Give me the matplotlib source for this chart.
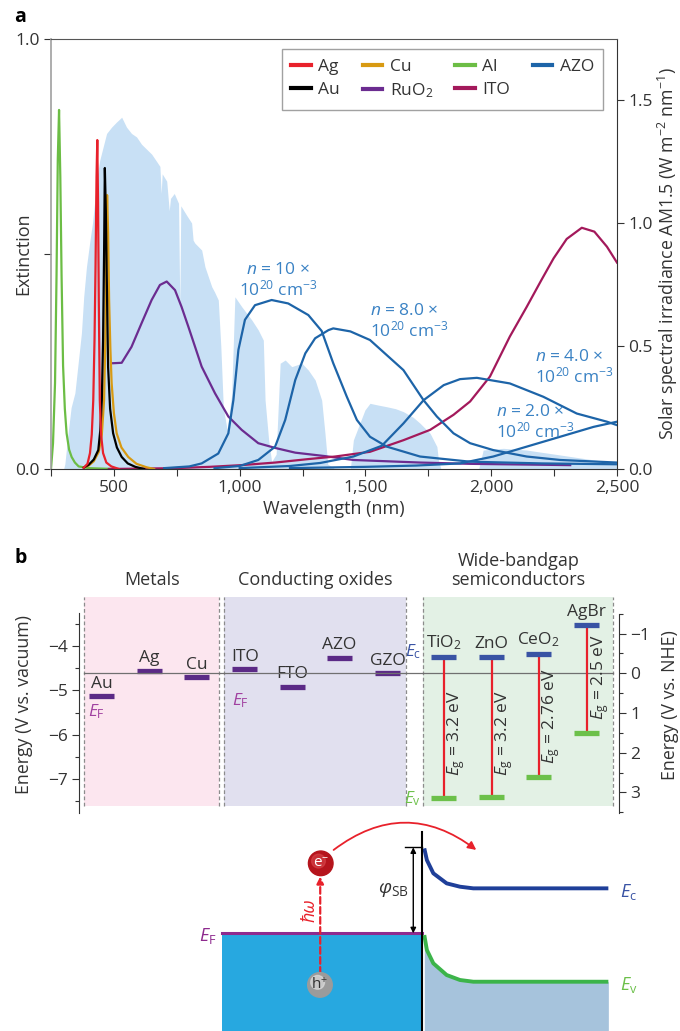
import numpy as np
import matplotlib.pyplot as plt
from matplotlib.ticker import FuncFormatter, FixedLocator
from matplotlib.patches import Circle, FancyArrowPatch, Rectangle

plt.rcParams['font.family'] = ['Open Sans', 'DejaVu Sans']
plt.rcParams['mathtext.fontset'] = 'custom'
plt.rcParams['mathtext.rm'] = 'Open Sans'
plt.rcParams['mathtext.it'] = 'Open Sans:italic'
plt.rcParams['mathtext.bf'] = 'Open Sans:bold'
plt.rcParams['text.color'] = '#333333'

# ---------------- panel a data ----------------
solar_nm = [280, 300, 305, 318, 330, 345, 360, 371, 380, 391, 405, 415, 424, 435, 444,
            455, 471, 491, 510, 531, 550, 570, 590, 610, 630, 650, 670, 683, 688, 692,
            710, 720, 725, 740, 757, 762, 766, 790, 809, 815, 822, 849, 862, 889, 900,
            915, 925, 935, 950, 968, 981, 1008, 1048, 1074, 1094, 1101, 1115, 1127, 1145,
            1161, 1181, 1207, 1247, 1273, 1300, 1326, 1339, 1350, 1380, 1440, 1452, 1498,
            1518, 1550, 1585, 1620, 1651, 1690, 1717, 1757, 1784, 1790, 1800, 1950, 1968,
            2000, 2048, 2100, 2141, 2200, 2274, 2340, 2407, 2487, 2500]
solar_irr = [0.0, 0.0, 0.02, 0.146, 0.25, 0.309, 0.45, 0.553, 0.70, 0.822, 0.93, 1.0, 1.09,
             1.20, 1.256, 1.30, 1.364, 1.39, 1.41, 1.43, 1.39, 1.364, 1.35, 1.32, 1.30, 1.28,
             1.25, 1.23, 1.12, 1.20, 1.17, 1.05, 1.10, 1.12, 1.08, 0.66, 1.07, 1.03, 1.0,
             0.93, 0.918, 0.89, 0.822, 0.741, 0.72, 0.687, 0.50, 0.25, 0.16, 0.30, 0.70,
             0.66, 0.606, 0.565, 0.524, 0.28, 0.12, 0.03, 0.06, 0.43, 0.443, 0.416, 0.43,
             0.402, 0.362, 0.28, 0.146, 0.02, 0.0, 0.0, 0.118, 0.24, 0.267, 0.26, 0.253,
             0.245, 0.233, 0.21, 0.186, 0.145, 0.091, 0.037, 0.0, 0.0, 0.077, 0.08, 0.084,
             0.08, 0.077, 0.068, 0.057, 0.047, 0.037, 0.026, 0.025]

al_nm = [250, 258, 266, 272, 277, 282, 287, 292, 298, 305, 312, 322, 332, 345, 360, 400, 500]
al_ext = [0.0, 0.06, 0.20, 0.45, 0.72, 0.835, 0.68, 0.45, 0.24, 0.14, 0.083, 0.045, 0.028,
          0.015, 0.006, 0.002, 0.0]

ag_nm = [380, 395, 405, 412, 418, 423, 427, 431, 434, 437, 440, 444, 449, 457, 470, 490, 520]
ag_ext = [0.003, 0.012, 0.037, 0.08, 0.16, 0.30, 0.47, 0.68, 0.765, 0.62, 0.393, 0.16, 0.08,
          0.037, 0.015, 0.006, 0.0]

au_nm = [380, 400, 420, 438, 446, 452, 457, 461, 464, 468, 471, 477, 485, 497, 512, 531,
         555, 585, 620]
au_ext = [0.003, 0.01, 0.022, 0.044, 0.09, 0.16, 0.30, 0.50, 0.70, 0.60, 0.47, 0.237, 0.14,
          0.083, 0.05, 0.028, 0.013, 0.005, 0.0]

cu_nm = [380, 400, 420, 440, 452, 461, 466, 470, 473, 477, 481, 486, 491, 500, 511, 530,
         557, 590, 630, 660]
cu_ext = [0.003, 0.008, 0.018, 0.04, 0.08, 0.16, 0.30, 0.50, 0.637, 0.55, 0.393, 0.28, 0.20,
          0.13, 0.083, 0.05, 0.028, 0.012, 0.004, 0.0]

ruo2_nm = [497, 531, 570, 610, 650, 683, 710, 743, 769, 796, 849, 902, 955, 1008, 1074,
           1141, 1221, 1339, 1452, 1717, 1916, 2314]
ruo2_ext = [0.246, 0.247, 0.284, 0.339, 0.393, 0.428, 0.436, 0.416, 0.377, 0.331, 0.238,
            0.176, 0.122, 0.091, 0.06, 0.049, 0.038, 0.030, 0.021, 0.015, 0.012, 0.009]

ito_nm = [480, 620, 743, 880, 1008, 1141, 1272, 1379, 1518, 1651, 1757, 1850, 1916, 1995,
          2074, 2141, 2200, 2248, 2300, 2360, 2410, 2460, 2500]
ito_ext = [0.0, 0.001, 0.002, 0.005, 0.009, 0.015, 0.023, 0.029, 0.040, 0.067, 0.091, 0.126,
           0.157, 0.215, 0.308, 0.377, 0.44, 0.49, 0.535, 0.561, 0.552, 0.517, 0.48]

azo10_nm = [700, 800, 849, 915, 955, 975, 995, 1021, 1061, 1127, 1193, 1273, 1326, 1372,
            1426, 1466, 1518, 1585, 1717, 1916, 2200, 2500]
azo10_ext = [0.002, 0.006, 0.013, 0.036, 0.083, 0.16, 0.277, 0.347, 0.381, 0.393, 0.385,
             0.358, 0.321, 0.246, 0.168, 0.114, 0.075, 0.052, 0.029, 0.017, 0.013, 0.011]

azo8_nm = [900, 1000, 1074, 1141, 1181, 1221, 1261, 1300, 1353, 1372, 1440, 1518, 1651,
           1731, 1784, 1850, 1916, 2008, 2141, 2274, 2500]
azo8_ext = [0.002, 0.007, 0.021, 0.052, 0.114, 0.207, 0.269, 0.304, 0.323, 0.327, 0.32,
            0.30, 0.230, 0.16, 0.122, 0.083, 0.06, 0.044, 0.029, 0.021, 0.015]

azo4_nm = [1000, 1200, 1320, 1452, 1565, 1651, 1731, 1811, 1876, 1943, 2074, 2207, 2340,
           2460, 2500]
azo4_ext = [0.002, 0.007, 0.014, 0.029, 0.054, 0.106, 0.16, 0.195, 0.209, 0.212, 0.199,
            0.168, 0.129, 0.11, 0.102]

azo2_nm = [1200, 1500, 1700, 1876, 2008, 2141, 2274, 2407, 2500]
azo2_ext = [0.002, 0.005, 0.008, 0.013, 0.029, 0.052, 0.075, 0.098, 0.11]

azo_labels = ['10', '8.0', '4.0', '2.0']

# ---------------- panel b data ----------------
metal_names = ['Au', 'Ag', 'Cu', 'ITO', 'FTO', 'AZO', 'GZO']
metal_ef = [-5.13, -4.56, -4.70, -4.52, -4.92, -4.26, -4.61]      # V vs. vacuum
semi_names = ['TiO$_2$', 'ZnO', 'CeO$_2$', 'AgBr']
semi_ec = [-0.42, -0.42, -0.49, -1.22]                             # V vs. NHE
semi_ev = [3.13, 3.11, 2.60, 1.51]
semi_gap = ['3.2', '3.2', '2.76', '2.5']

# ---------------- panel c schematic levels (phi_SB = 1) ----------------
ef_level = 0.0
barrier = 1.0
bend_x = [0.03, 0.06, 0.135, 0.29, 0.445, 0.6, 2.17]
ec_band = [0.988, 0.852, 0.698, 0.581, 0.542, 0.523, 0.523]
ev_band = [-0.02, -0.194, -0.349, -0.485, -0.543, -0.563, -0.563]

W, H = 680, 1031


def box(l, t, r, b):
    return [l / W, 1 - b / H, (r - l) / W, (b - t) / H]


fig = plt.figure(figsize=(6.8, 10.31), dpi=100)
dark = '#333333'
fs = 12.5

# ======================= panel a =======================
ax1 = fig.add_axes(box(51, 39, 617, 469))
ax2 = ax1.twinx()
ax2.fill_between(solar_nm, solar_irr, color='#c8e0f5', lw=0)
ax1.set_zorder(ax2.get_zorder() + 1)
ax1.patch.set_visible(False)

ax1.plot(al_nm, al_ext, color='#6cbd45', lw=1.6, label='Al')
ax1.plot(ruo2_nm, ruo2_ext, color='#6b2c90', lw=1.6, label='RuO$_2$')
ax1.plot(ito_nm, ito_ext, color='#a3195b', lw=1.6, label='ITO')
azo_c = '#1d64a8'
ax1.plot(azo10_nm, azo10_ext, color=azo_c, lw=1.6, label='AZO')
ax1.plot(azo8_nm, azo8_ext, color=azo_c, lw=1.6)
ax1.plot(azo4_nm, azo4_ext, color=azo_c, lw=1.6)
ax1.plot(azo2_nm, azo2_ext, color=azo_c, lw=1.6)
ax1.plot(cu_nm, cu_ext, color='#d89a12', lw=1.6, label='Cu')
ax1.plot(au_nm, au_ext, color='black', lw=1.6, label='Au')
ax1.plot(ag_nm, ag_ext, color='#e8212b', lw=1.6, label='Ag')

ax1.set_xlim(250, 2500)
ax1.set_ylim(0, 1.0)
ax2.set_ylim(0, 1.748)

ax1.xaxis.set_major_locator(FixedLocator([500, 1000, 1500, 2000, 2500]))
ax1.xaxis.set_minor_locator(FixedLocator([250, 750, 1250, 1750, 2250]))
ax1.xaxis.set_major_formatter(FuncFormatter(lambda v, p: f'{v:,.0f}'))
ax1.set_yticks([0, 0.5, 1.0])
ax1.set_yticklabels(['0.0', '', '1.0'])
ax2.set_yticks([0, 0.5, 1.0, 1.5])
ax2.set_yticklabels(['0.0', '0.5', '1.0', '1.5'])
for a in (ax1, ax2):
    a.tick_params(which='both', direction='out', length=5, width=0.8, colors=dark,
                  labelsize=fs, labelcolor=dark, pad=3)

ax1.spines['left'].set_color('#a0a0a0')
ax1.spines['left'].set_linewidth(1.2)
ax1.spines['top'].set_color('#555555')
ax1.spines['bottom'].set_color(dark)
ax1.spines['right'].set_visible(False)
for s in ('left', 'top', 'bottom'):
    ax2.spines[s].set_visible(False)
ax2.spines['right'].set_color(dark)

ax1.set_xlabel('Wavelength (nm)', fontsize=13, color=dark, labelpad=3)
ax1.set_ylabel('Extinction', fontsize=13, color=dark, va='center')
ax1.yaxis.set_label_coords((23 - 51) / 566, 0.5)
ax2.set_ylabel('Solar spectral irradiance AM1.5 (W m$^{-2}$ nm$^{-1}$)', fontsize=12.8,
               color=dark, va='center')
ax2.yaxis.set_label_coords((668 - 51) / 566, 0.5)

h, l = ax1.get_legend_handles_labels()
order = ['Ag', 'Au', 'Cu', 'RuO$_2$', 'Al', 'ITO', 'AZO']
hh = [h[l.index(k)] for k in order]
leg = ax1.legend(hh, order, ncol=4, loc='upper right', bbox_to_anchor=(0.976, 0.977),
                 fontsize=fs, frameon=True, fancybox=False, handlelength=1.1,
                 handletextpad=0.45, columnspacing=1.3, borderpad=0.55, labelspacing=0.4,
                 borderaxespad=0)
leg.get_frame().set_edgecolor('#8a8a8a')
leg.get_frame().set_linewidth(1.0)
for line in leg.get_lines():
    line.set_linewidth(3)
for t in leg.get_texts():
    t.set_color(dark)

lab_c = '#3a82c4'
lab_pos = [(1152, 0.395, 'center'), (1518, 0.30, 'left'), (2175, 0.193, 'left'),
           (2019, 0.065, 'left')]
for txt, (x, y, ha) in zip(azo_labels, lab_pos):
    ax1.text(x, y, f'$n$ = {txt} ×\n10$^{{20}}$ cm$^{{-3}}$', color=lab_c, fontsize=fs,
             ha=ha, va='bottom', linespacing=1.05)

fig.text(14 / W, 1 - 22 / H, 'a', fontsize=14, fontweight='bold', color='black')

# ======================= panel b =======================
axb = fig.add_axes(box(79.3, 597, 619.3, 813))
axb.set_xlim(79.3, 619.3)
axb.set_ylim(-7.759, -2.896)
axr = axb.twinx()
axr.set_ylim(3.519, -1.922)

regions = [(84, 219.3, '#fce6ef', 'Metals'), (224.3, 406, '#e1e0ef', 'Conducting oxides'),
           (423.3, 613.3, '#e3f1e5', 'Wide-bandgap\nsemiconductors')]
for x0, x1, c, name in regions:
    axb.axvspan(x0, x1, ymin=7 / 216, ymax=1, color=c, lw=0, zorder=0)
    for xe in (x0, x1):
        axb.plot([xe, xe], [-7.60, -2.896], color='#8c8c8c', lw=0.9, ls=(0, (3, 2)), zorder=1)
    axb.text((x0 + x1) / 2, -2.72, name, ha='center', va='bottom', fontsize=13,
             color=dark, linespacing=1.1)

axr.plot([84, 613.3], [0, 0], color='#707070', lw=0.9, zorder=1)

metal_x = [101.7, 149.3, 196.7, 244.7, 292.3, 339.3, 387.5]
for x, e, n in zip(metal_x, metal_ef, metal_names):
    axb.plot([x - 12.5, x + 12.5], [e, e], color='#5b2a86', lw=3.8, solid_capstyle='butt',
             zorder=3)
    axb.text(x, e + 0.1, n, ha='center', va='bottom', fontsize=fs, color=dark, zorder=4)
axb.text(96, -5.47, '$E_{\\rm F}$', color='#a040a0', fontsize=fs, ha='center', va='center')
axb.text(240, -5.22, '$E_{\\rm F}$', color='#a040a0', fontsize=fs, ha='center', va='center')

semi_x = [443.5, 491.5, 538.5, 586.7]
eg_y = [1.5, 1.5, 1.08, 0.09]
for x, ec, ev, n, g, gy in zip(semi_x, semi_ec, semi_ev, semi_names, semi_gap, eg_y):
    axr.plot([x, x], [ec, ev], color='#e8212b', lw=1.6, zorder=2)
    axr.plot([x - 12.5, x + 12.5], [ec, ec], color='#3953a4', lw=3.8,
             solid_capstyle='butt', zorder=3)
    axr.plot([x - 12.5, x + 12.5], [ev, ev], color='#6cc04a', lw=3.8,
             solid_capstyle='butt', zorder=3)
    axr.text(x, ec - 0.12, n, ha='center', va='bottom', fontsize=fs, color=dark)
    axr.text(x + 13, gy, f'$E_{{\\rm g}}$ = {g} eV', rotation=90, ha='center', va='center',
             fontsize=fs, color=dark)
axr.text(413, -0.55, '$E_{\\rm c}$', color='#3953a4', fontsize=fs, ha='center', va='center')
axr.text(413, 3.15, '$E_{\\rm v}$', color='#6cc04a', fontsize=fs, ha='center', va='center')

axb.set_xticks([])
for s in ('top', 'bottom', 'right'):
    axb.spines[s].set_visible(False)
    axr.spines[s if s != 'right' else 'left'].set_visible(False)
axb.spines['left'].set_bounds(-7.759, -3.257)
axr.spines['right'].set_bounds(-1.5, 3.519)
axb.spines['left'].set_color(dark)
axr.spines['right'].set_color(dark)
axb.set_yticks([-7, -6, -5, -4])
axb.set_yticks([-7.5, -6.5, -5.5, -4.5, -3.5], minor=True)
axr.set_yticks([-1, 0, 1, 2, 3])
axr.set_yticks([-1.5, -0.5, 0.5, 1.5, 2.5, 3.5], minor=True)
for a in (axb, axr):
    a.tick_params(which='major', direction='out', length=5, width=0.8, colors=dark,
                  labelsize=fs, labelcolor=dark, pad=3)
    a.tick_params(which='minor', direction='out', length=3, width=0.8, colors=dark)
axb.set_ylabel('Energy (V vs. vacuum)', fontsize=12.8, color=dark, va='center')
axb.yaxis.set_label_coords((24 - 79.3) / 540, 0.5)
axr.set_ylabel('Energy (V vs. NHE)', fontsize=12.8, color=dark, va='center')
axr.yaxis.set_label_coords((670 - 79.3) / 540, 0.5)

fig.text(14 / W, 1 - 563 / H, 'b', fontsize=14, fontweight='bold', color='black')

# ======================= panel c (schematic) =======================
axc = fig.add_axes([0, 0, 1, 216 / H])
axc.set_xlim(-4.903, 3.003)
axc.set_ylim(-1.136, 1.376)
axc.axis('off')

bottom = -1.136
axc.add_patch(Rectangle((-2.326, bottom), 2.326, ef_level - bottom, color='#27a8e0', lw=0))
axc.plot([-2.326, 0], [ef_level, ef_level], color='#8e2a8e', lw=2.2)
axc.fill_between(bend_x, ev_band, bottom, color='#a6c3dc', lw=0)
axc.plot(bend_x, ec_band, color='#1f3f99', lw=2.8, solid_capstyle='butt')
axc.plot(bend_x, ev_band, color='#3cb44a', lw=2.8, solid_capstyle='butt')
axc.plot([0, 0], [bottom, 1.18], color='black', lw=1.5)
axc.plot([-0.2, 0], [barrier, barrier], color='black', lw=1.0)
axc.annotate('', xy=(-0.098, barrier), xytext=(-0.098, ef_level),
             arrowprops=dict(arrowstyle='<|-|>', color='black', lw=1.0,
                             mutation_scale=8, shrinkA=0, shrinkB=0))
axc.text(-0.15, 0.5, '$\\it{φ}$$_{\\rm SB}$', ha='right', va='center', fontsize=14, color=dark)
axc.text(2.3, 0.48, '$E_{\\rm c}$', color='#3953a4', fontsize=13, ha='left', va='center')
axc.text(2.3, -0.6, '$E_{\\rm v}$', color='#6cc04a', fontsize=13, ha='left', va='center')
axc.text(-2.38, -0.03, '$E_{\\rm F}$', color='#8e2a8e', fontsize=13, ha='right', va='center')

axc.annotate('', xy=(-1.18, 0.66), xytext=(-1.18, -0.47),
             arrowprops=dict(arrowstyle='-|>', color='#e8212b', lw=1.6, ls=(0, (3, 1.5)),
                             mutation_scale=10, shrinkA=0, shrinkB=0))
axc.text(-1.31, 0.27, 'ħω', rotation=90, color='#e8212b', fontsize=13, style='italic',
         ha='center', va='center')
axc.add_patch(FancyArrowPatch((-1.05, 0.95), (0.66, 0.95), connectionstyle='arc3,rad=-0.39',
                              arrowstyle='-|>', mutation_scale=12, color='#e8212b', lw=1.3))

axc.add_patch(Circle((-1.174, 0.814), 0.143, color='#b5141c', zorder=5))
axc.add_patch(Circle((-1.20, 0.84), 0.08, color='#d8454a', zorder=5, alpha=0.6))
axc.text(-1.174, 0.814, 'e$^{-}$', color='white', fontsize=11, ha='center', va='center',
         zorder=6)
axc.add_patch(Circle((-1.183, -0.60), 0.143, color='#9b9b9b', zorder=5))
axc.add_patch(Circle((-1.21, -0.57), 0.08, color='#dcdcdc', zorder=5, alpha=0.7))
axc.text(-1.183, -0.60, 'h$^{+}$', color=dark, fontsize=11, ha='center', va='center',
         zorder=6)

fig.savefig('out.png', dpi=100)
